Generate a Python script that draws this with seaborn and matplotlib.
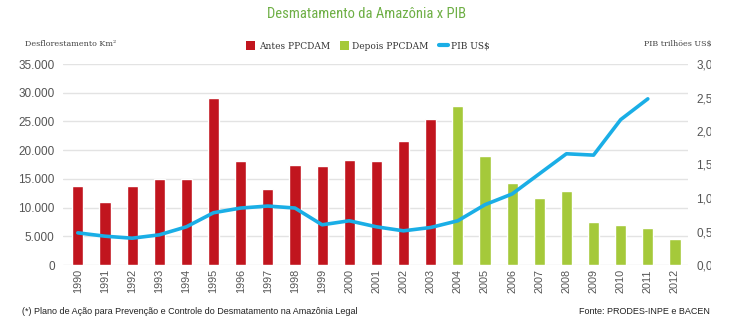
import matplotlib
matplotlib.use("Agg")
import matplotlib.pyplot as plt
from matplotlib.patches import Patch, Rectangle
from matplotlib.lines import Line2D
from matplotlib.ticker import FuncFormatter
from matplotlib import font_manager
import seaborn as sns
import pandas as pd
import numpy as np

years = [str(y) for y in range(1990, 2013)]
desmatamento = [13730, 11030, 13786, 14896, 14896, 29059, 18161, 13227, 17383, 17259,
                18226, 18165, 21651, 25396, 27772, 19014, 14286, 11651, 12911, 7464,
                7000, 6418, 4571]
periodo = ["Antes PPCDAM"] * 14 + ["Depois PPCDAM"] * 9
pib_years = [str(y) for y in range(1990, 2012)]
pib = [0.48, 0.43, 0.40, 0.45, 0.57, 0.78, 0.85, 0.88, 0.85, 0.60,
       0.66, 0.57, 0.51, 0.56, 0.66, 0.90, 1.06, 1.36, 1.66, 1.64,
       2.17, 2.48]

RED = "#c1151e"
GREEN = "#a5c93a"
BLUE = "#1aaee6"
TITLE_GREEN = "#6eaf45"
GRAY = "#555555"

sns.set_theme(style="white")
plt.rcParams["font.family"] = ["Liberation Sans", "DejaVu Sans"]

names = {f.name for f in font_manager.fontManager.ttflist}
cond = None
for cand in ["Liberation Sans Narrow", "Roboto Condensed", "Open Sans Condensed",
             "DejaVu Sans Condensed"]:
    if cand in names:
        cond = cand
        break
has_dejavu_cond = any(f.name == "DejaVu Sans" and f.stretch == "condensed"
                      for f in font_manager.fontManager.ttflist)

df = pd.DataFrame({"ano": years, "valor": desmatamento, "periodo": periodo})
df_pib = pd.DataFrame({"pos": [years.index(y) for y in pib_years], "pib": pib})

fig = plt.figure(figsize=(7.48, 3.28), dpi=100)
W, H = 748, 328
left, right, top, bottom = 63, 688, 64, 265
ax = fig.add_axes([left / W, 1 - bottom / H, (right - left) / W, (bottom - top) / H])

sns.barplot(data=df, x="ano", y="valor", hue="periodo",
            palette={"Antes PPCDAM": RED, "Depois PPCDAM": GREEN},
            dodge=False, width=0.41, saturation=1, legend=False, ax=ax, zorder=2)
ax.set_ylim(0, 35000)
ax.set_xlim(-0.545, 22.48)
ax.set_yticks(np.arange(0, 35001, 5000))
ax.yaxis.set_major_formatter(FuncFormatter(lambda v, p: f"{int(v):,}".replace(",", ".")))
ax.grid(axis="y", color="#e3e3e3", linewidth=1, zorder=0)
ax.set_axisbelow(True)
for s in ax.spines.values():
    s.set_visible(False)
ax.set_xlabel("")
ax.set_ylabel("")
ax.tick_params(axis="y", labelsize=8.5, colors=GRAY, length=0, pad=6)
ax.tick_params(axis="x", labelsize=7.8, colors=GRAY, length=0, pad=3, rotation=90)

ax2 = ax.twinx()
sns.lineplot(data=df_pib, x="pos", y="pib", color=BLUE, linewidth=2.6, ax=ax2, zorder=3)
ax2.set_ylim(0, 3.0)
ax2.set_yticks(np.arange(0, 3.01, 0.5))
ax2.yaxis.set_major_formatter(FuncFormatter(lambda v, p: f"{v:.1f}".replace(".", ",")))
ax2.tick_params(axis="y", labelsize=8.5, colors=GRAY, length=0, pad=6)
ax2.set_ylabel("")
ax2.set_xlabel("")
for s in ax2.spines.values():
    s.set_visible(False)
ax2.grid(False)

if cond is not None:
    tkw = dict(family=[cond, "DejaVu Sans"], fontsize=10.5)
elif has_dejavu_cond:
    tkw = dict(family=["DejaVu Sans"], fontstretch="condensed", fontsize=10)
else:
    tkw = dict(family=["Liberation Sans", "DejaVu Sans"], fontsize=10)
fig.text(367 / W, 1 - 14 / H, "Desmatamento da Amazônia x PIB", ha="center", va="center",
         color=TITLE_GREEN, fontweight="normal", **tkw)
fig.text(25 / W, 1 - 44 / H, "Desflorestamento Km²", ha="left", va="center",
         color="#444444", fontsize=5.8, family=["DejaVu Serif"])
fig.text(712 / W, 1 - 44 / H, "PIB trilhões US$", ha="right", va="center",
         color="#444444", fontsize=5.8, family=["DejaVu Serif"])

handles = [Patch(facecolor=RED, edgecolor="none"),
           Patch(facecolor=GREEN, edgecolor="none"),
           Line2D([], [], color=BLUE, linewidth=3)]
labels = ["Antes PPCDAM", "Depois PPCDAM", "PIB US$"]
fig.legend(handles, labels, loc="center", bbox_to_anchor=(368 / W, 1 - 46 / H), ncol=3,
           frameon=False, handlelength=1.0, handleheight=1.0, handletextpad=0.4,
           columnspacing=1.1, prop={"family": "DejaVu Serif", "size": 6.5},
           labelcolor="#333333")

fig.text(22 / W, 1 - 312 / H,
         "(*) Plano de Ação para Prevenção e Controle do Desmatamento na Amazônia Legal",
         ha="left", va="center", color="#222222", fontsize=6.5,
         family=["Liberation Sans", "DejaVu Sans"])
fig.text(710 / W, 1 - 312 / H, "Fonte: PRODES-INPE e BACEN", ha="right", va="center",
         color="#222222", fontsize=6.5,
         family=["Liberation Sans", "DejaVu Sans"])

# the reference image is cropped just right of the right-axis labels
fig.patches.append(Rectangle((711 / W, 0), 1 - 711 / W, 1, transform=fig.transFigure,
                             facecolor="white", edgecolor="none", zorder=10))

fig.savefig("out.png", dpi=100, facecolor="white")
